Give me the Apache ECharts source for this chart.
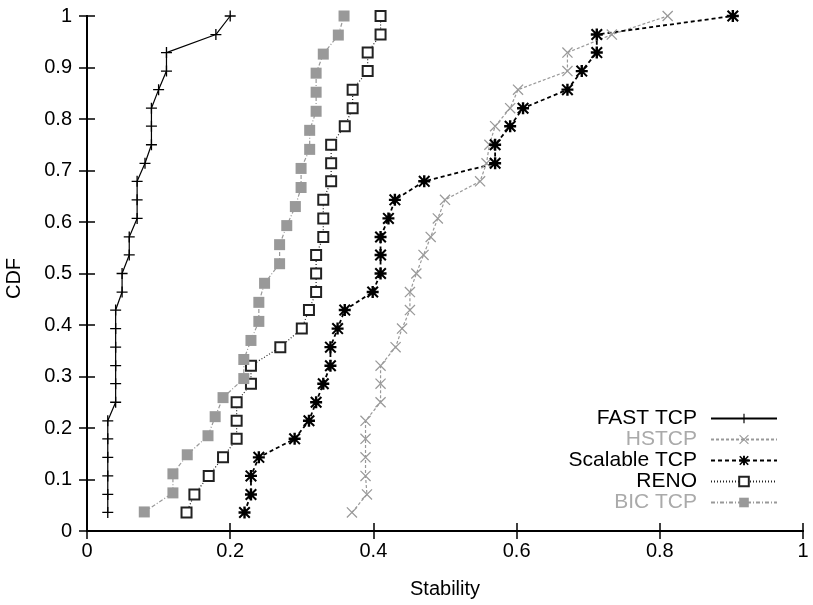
<!DOCTYPE html>
<html>
<head>
<meta charset="utf-8">
<script src="https://cdn.jsdelivr.net/npm/echarts@6/dist/echarts.min.js"></script>
<style>html,body{margin:0;padding:0;background:#fff}#c{width:813px;height:605px}</style>
</head>
<body>
<div id="c"></div>
<script>
var seriesNames = ['FAST TCP', 'HSTCP', 'Scalable TCP', 'RENO', 'BIC TCP'];
var xTicks = [0, 0.2, 0.4, 0.6, 0.8, 1];
var cdf28 = [0.036,0.071,0.107,0.143,0.179,0.214,0.25,0.286,0.321,0.357,0.393,0.429,0.464,0.5,0.536,0.571,0.607,0.643,0.679,0.714,0.75,0.786,0.821,0.857,0.893,0.929,0.964,1.0];
var cdf27 = [0.037,0.074,0.111,0.148,0.185,0.222,0.259,0.296,0.333,0.370,0.407,0.444,0.481,0.519,0.556,0.593,0.630,0.667,0.704,0.741,0.778,0.815,0.852,0.889,0.926,0.963,1.0];
var fastX = [0.029,0.029,0.029,0.029,0.029,0.029,0.04,0.04,0.04,0.04,0.04,0.04,0.049,0.049,0.059,0.059,0.07,0.07,0.07,0.081,0.09,0.09,0.09,0.1,0.111,0.111,0.18,0.2];
var hsX = [0.37,0.391,0.389,0.389,0.389,0.389,0.41,0.41,0.41,0.431,0.44,0.451,0.451,0.46,0.47,0.48,0.49,0.50,0.549,0.558,0.562,0.57,0.591,0.602,0.671,0.671,0.733,0.811];
var scalX = [0.22,0.229,0.229,0.24,0.29,0.31,0.32,0.33,0.34,0.34,0.35,0.36,0.399,0.41,0.41,0.41,0.421,0.43,0.471,0.57,0.57,0.591,0.609,0.671,0.691,0.712,0.712,0.902];
var renoX = [0.139,0.15,0.17,0.19,0.209,0.209,0.209,0.229,0.229,0.27,0.30,0.31,0.32,0.32,0.32,0.33,0.33,0.33,0.341,0.341,0.341,0.36,0.371,0.371,0.392,0.392,0.41,0.41];
var bicX = [0.08,0.12,0.12,0.14,0.169,0.179,0.19,0.219,0.219,0.229,0.24,0.24,0.248,0.269,0.269,0.279,0.291,0.299,0.299,0.311,0.311,0.32,0.32,0.32,0.33,0.351,0.359];

function pairs(xs, ys) { return xs.map(function (x, i) { return [x, ys[i]]; }); }

var PLUS = 'path://M4.4,0H5.6V4.4H10V5.6H5.6V10H4.4V5.6H0V4.4H4.4Z';
var CROSS = 'path://M0,0.8L0.8,0L10,9.2L9.2,10ZM9.2,0L10,0.8L0.8,10L0,9.2Z';
var STAR = 'path://M4,0H6V4H10V6H6V10H4V6H0V4H4ZM0,1.2L1.2,0L10,8.8L8.8,10ZM8.8,0L10,1.2L1.2,10L0,8.8Z';

function fmtTick(v) { return String(Math.round(v * 10) / 10); }
var nameFont = {fontFamily: 'Liberation Sans', fontSize: 20, color: '#000'};
var chart = echarts.init(document.getElementById('c'), null, {renderer: 'canvas'});
var axisLine = {show: true, lineStyle: {color: '#000', width: 2}};
var tick = {show: true, inside: true, length: 8, lineStyle: {color: '#000', width: 1.5}};
chart.setOption({
  animation: false,
  backgroundColor: '#fff',
  grid: {left: 87, right: 10, top: 16, bottom: 74, containLabel: false, outerBoundsMode: 'none'},
  xAxis: [
    {type: 'value', min: 0, max: 1, interval: 0.2, axisLine: axisLine, axisTick: tick, splitLine: {show: false},
     axisLabel: {show: true, margin: 10, fontSize: 20, fontFamily: 'Liberation Sans', color: '#000', formatter: fmtTick},
     name: 'Stability', nameLocation: 'middle', nameGap: 48, nameTextStyle: nameFont},
    {type: 'value', position: 'top', min: 0, max: 1, interval: 0.2, axisLine: axisLine, axisTick: tick, axisLabel: {show: false}, splitLine: {show: false}}
  ],
  yAxis: [
    {type: 'value', min: 0, max: 1, interval: 0.1, axisLine: axisLine, axisTick: tick, splitLine: {show: false},
     axisLabel: {show: true, margin: 15, fontSize: 20, fontFamily: 'Liberation Sans', color: '#000', formatter: fmtTick},
     name: 'CDF', nameLocation: 'middle', nameGap: 63, nameRotate: 90,
     nameTextStyle: {fontFamily: 'Liberation Sans', fontSize: 20, color: '#000', padding: [0, 0, 0, -10]}},
    {type: 'value', position: 'right', min: 0, max: 1, interval: 0.1, axisLine: axisLine, axisTick: tick, axisLabel: {show: false}, splitLine: {show: false}}
  ],
  legend: {
    orient: 'vertical', right: 35, top: 408, align: 'right', itemWidth: 66, itemHeight: 12, itemGap: 0, padding: 0,
    textStyle: {fontFamily: 'Liberation Sans', fontSize: 21, lineHeight: 20, color: '#000', padding: [0, 9, 0, 0]},
    data: [
      {name: seriesNames[0], textStyle: {color: '#000'}},
      {name: seriesNames[1], textStyle: {color: '#aaa'}},
      {name: seriesNames[2], textStyle: {color: '#000'}},
      {name: seriesNames[3], textStyle: {color: '#000'}},
      {name: seriesNames[4], textStyle: {color: '#aaa'}}
    ]
  },
  series: [
    {name: seriesNames[0], type: 'line', data: pairs(fastX, cdf28), symbol: PLUS, symbolSize: 11,
     lineStyle: {color: '#000', width: 1.2, type: 'solid'}, itemStyle: {color: '#000'}, clip: false},
    {name: seriesNames[1], type: 'line', data: pairs(hsX, cdf28), symbol: CROSS, symbolSize: 11,
     lineStyle: {color: '#999', width: 1.2, type: [3, 2]}, itemStyle: {color: '#999'}, clip: false},
    {name: seriesNames[2], type: 'line', data: pairs(scalX, cdf28), symbol: STAR, symbolSize: 12,
     lineStyle: {color: '#000', width: 1.8, type: [4, 3]}, itemStyle: {color: '#000'}, clip: false},
    {name: seriesNames[3], type: 'line', data: pairs(renoX, cdf28), symbol: 'emptyRect', symbolSize: 10,
     lineStyle: {color: '#222', width: 1.2, type: [1, 2]}, itemStyle: {color: '#222', borderWidth: 1.3}, clip: false},
    {name: seriesNames[4], type: 'line', data: pairs(bicX, cdf27), symbol: 'rect', symbolSize: 11,
     lineStyle: {color: '#999', width: 1.2, type: [4, 2, 1, 2]}, itemStyle: {color: '#999'}, clip: false}
  ]
});
</script>
</body>
</html>
